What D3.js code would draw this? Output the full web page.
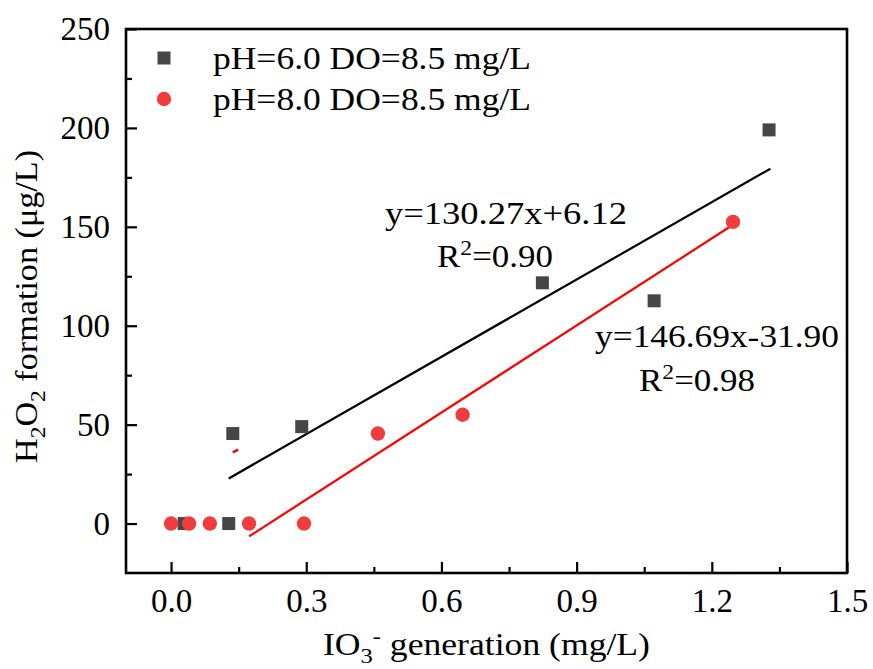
<!DOCTYPE html>
<html><head><meta charset="utf-8">
<script src="https://cdn.jsdelivr.net/npm/d3@7"></script>
<style>
body{margin:0;background:#fff}
svg{display:block}
text{font-family:"Liberation Serif","Times New Roman",serif;fill:#000}
</style></head>
<body><svg id="c" width="873" height="669"></svg>
<script>
// ---- data ----
const seriesNames = ["pH=6.0 DO=8.5 mg/L", "pH=8.0 DO=8.5 mg/L"];
const xPH6 = [0.029, 0.128, 0.137, 0.290, 0.824, 1.072, 1.327];
const yPH6 = [0, 0, 45.5, 49, 121.7, 112.6, 199];
const xPH8 = [0.0, 0.040, 0.086, 0.173, 0.295, 0.459, 0.647, 1.247];
const yPH8 = [0, 0, 0, 0, 0, 45.5, 55, 152.5];
const fitSlope = [130.27, 146.69];
const fitIntercept = [6.12, -31.90];
const fitXStart = [0.128, 0.173];
const fitXEnd = [1.33, 1.247];
const fitEquation = ["y=130.27x+6.12", "y=146.69x-31.90"];
const fitR2 = ["0.90", "0.98"];
const strayX = [0.137, 0.149];
const strayY = [36, 37.4];
const xTickValues = [0, 0.3, 0.6, 0.9, 1.2, 1.5];
const xMinorValues = [0.15, 0.45, 0.75, 1.05, 1.35];
const yTickValues = [0, 50, 100, 150, 200, 250];
const yMinorValues = [25, 75, 125, 175, 225];

// ---- layout ----
const L = 126, R = 847, T = 29, B = 573;
const svg = d3.select("#c");
const x = d3.scaleLinear().domain([-0.1, 1.5]).range([L, R]);
const y = d3.scaleLinear().domain([-25, 250]).range([B, T]);
const cBlack = "#464646", cRed = "#f03c3c";

// axes
const gx = svg.append("g").attr("transform", `translate(0,${B})`)
  .call(d3.axisBottom(x).tickValues(xTickValues).tickFormat(d3.format(".1f"))
    .tickSizeInner(-11).tickSizeOuter(0).tickPadding(16));
const gxm = svg.append("g").attr("transform", `translate(0,${B})`)
  .call(d3.axisBottom(x).tickValues(xMinorValues).tickFormat("")
    .tickSizeInner(-6).tickSizeOuter(0));
const gy = svg.append("g").attr("transform", `translate(${L},0)`)
  .call(d3.axisLeft(y).tickValues(yTickValues).tickFormat(d3.format("d"))
    .tickSizeInner(-11).tickSizeOuter(0).tickPadding(16));
const gym = svg.append("g").attr("transform", `translate(${L},0)`)
  .call(d3.axisLeft(y).tickValues(yMinorValues).tickFormat("")
    .tickSizeInner(-6).tickSizeOuter(0));
[gx, gxm, gy, gym].forEach(g => {
  g.select(".domain").remove();
  g.selectAll(".tick line").attr("stroke", "#000").attr("stroke-width", 2.2);
  g.selectAll(".tick text").attr("font-size", 33).attr("font-family", "Liberation Serif").attr("fill", "#000");
});

// frame
svg.append("rect").attr("x", L).attr("y", T).attr("width", R - L).attr("height", B - T)
  .attr("fill", "none").attr("stroke", "#000").attr("stroke-width", 2.6);

// fit lines
const fitColors = ["#000", "#ff0000"];
fitSlope.forEach((m, i) => {
  const pts = [fitXStart[i], fitXEnd[i]].map(v => [v, m * v + fitIntercept[i]]);
  svg.append("path").datum(pts)
    .attr("d", d3.line().x(d => x(d[0])).y(d => y(d[1])))
    .attr("stroke", fitColors[i]).attr("stroke-width", 2.2).attr("fill", "none");
});
// small stray red mark
svg.append("path").datum(strayX.map((v, i) => [v, strayY[i]]))
  .attr("d", d3.line().x(d => x(d[0])).y(d => y(d[1])))
  .attr("stroke", "#ff0000").attr("stroke-width", 2.5).attr("fill", "none");

// points
const sq = 13;
svg.append("g").selectAll("rect").data(xPH6.map((v, i) => [v, yPH6[i]])).join("rect")
  .attr("x", d => x(d[0]) - sq / 2).attr("y", d => y(d[1]) - sq / 2)
  .attr("width", sq).attr("height", sq).attr("fill", cBlack);
svg.append("g").selectAll("circle").data(xPH8.map((v, i) => [v, yPH8[i]])).join("circle")
  .attr("cx", d => x(d[0])).attr("cy", d => y(d[1])).attr("r", 7.2).attr("fill", cRed);

// legend
const lg = svg.append("g");
lg.append("rect").attr("x", 164 - sq / 2).attr("y", 58 - sq / 2).attr("width", sq).attr("height", sq).attr("fill", cBlack);
lg.append("circle").attr("cx", 164).attr("cy", 99).attr("r", 7.2).attr("fill", cRed);
seriesNames.forEach((s, i) => {
  lg.append("text").attr("x", 213).attr("y", 69 + i * 41).attr("font-size", 31)
    .attr("textLength", 318).attr("lengthAdjust", "spacingAndGlyphs").text(s);
});

// annotations
function eqText(xp, yp, str, w) {
  svg.append("text").attr("x", xp).attr("y", yp).attr("font-size", 31)
    .attr("textLength", w).attr("lengthAdjust", "spacingAndGlyphs").text(str);
}
function r2Text(xp, yp, val, w) {
  const t = svg.append("text").attr("x", xp).attr("y", yp).attr("font-size", 31)
    .attr("textLength", w).attr("lengthAdjust", "spacingAndGlyphs");
  t.append("tspan").text("R");
  t.append("tspan").attr("dy", -12).attr("font-size", 21).text("2");
  t.append("tspan").attr("dy", 12).text("=" + val);
}
eqText(385, 224, fitEquation[0], 242);
r2Text(437, 267, fitR2[0], 116);
eqText(595, 347, fitEquation[1], 244);
r2Text(639, 391, fitR2[1], 116);

// axis titles
const xt = svg.append("text").attr("x", 323).attr("y", 655).attr("font-size", 32)
  .attr("textLength", 327).attr("lengthAdjust", "spacingAndGlyphs");
xt.append("tspan").text("IO");
xt.append("tspan").attr("dy", 8).attr("font-size", 22).text("3");
xt.append("tspan").attr("dy", -20).attr("font-size", 22).text("-");
xt.append("tspan").attr("dy", 12).text(" generation (mg/L)");

const yt = svg.append("text").attr("transform", "translate(37,463) rotate(-90)")
  .attr("x", 0).attr("y", 0).attr("font-size", 32)
  .attr("textLength", 313).attr("lengthAdjust", "spacingAndGlyphs");
yt.append("tspan").text("H");
yt.append("tspan").attr("dy", 8).attr("font-size", 22).text("2");
yt.append("tspan").attr("dy", -8).text("O");
yt.append("tspan").attr("dy", 8).attr("font-size", 22).text("2");
yt.append("tspan").attr("dy", -8).text(" formation (\u03bcg/L)");
</script></body></html>
